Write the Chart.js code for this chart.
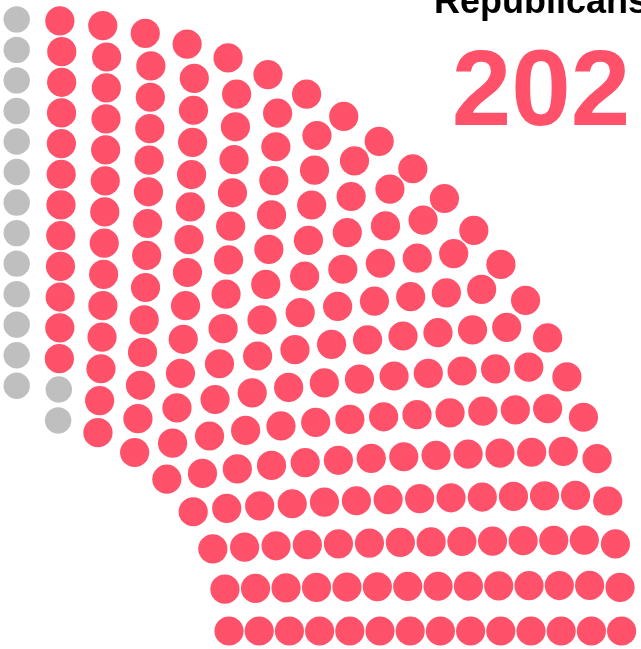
<!DOCTYPE html>
<html>
<head>
<meta charset="utf-8">
<script src="https://cdn.jsdelivr.net/npm/chart.js@4/dist/chart.umd.min.js"></script>
<style>
	html, body { margin: 0; padding: 0; background: #fff; }
	#wrap { width: 641px; height: 649px; position: relative; }
</style>
</head>
<body>
<div id="wrap"><canvas id="seatChart"></canvas></div>
<script>
// seats per group (US House style hemicycle, right half shown)
var parties = [ 'Other', 'Republicans' ];
var seats = [ 219, 202 ];
var partyColors = [ '#bfbfbf', '#ff526a' ];
var highlightParty = 1;

// hemicycle layout settings
var rowCount = 14;
var innerRatio = 0.351;
var seatSpacing = 0.0729;

// builds seat slots ring by ring, then sorts them left to right
function parliamentSlots(total) {
	var slots = [];
	for (var k = 0; k < rowCount; k++) {
		var r = innerRatio + (1 - innerRatio) * k / (rowCount - 1);
		var quarter = Math.round(Math.PI * r / (2 * seatSpacing));
		for (var j = -quarter; j <= quarter; j++) {
			var a = Math.PI / 2 - j * Math.PI / (2 * quarter);
			slots.push({ x : r * Math.cos(a), y : r * Math.sin(a), row : k, col : j });
		}
	}
	// too many slots: drop the middle seat of the inner rows first
	var extra = slots.length - total;
	for (var row = 0; extra > 0 && row < rowCount; row++, extra--) {
		slots = slots.filter(function(s) { return !(s.row === row && s.col === 0); });
	}
	slots.sort(function(p, q) { return p.x - q.x; });
	return slots;
}

var total = seats.reduce(function(s, v) { return s + v; }, 0);
var slots = parliamentSlots(total);
var datasets = [];
var start = 0;
for (var i = 0; i < parties.length; i++) {
	datasets.push({
		label : parties[i],
		data : slots.slice(start, start + seats[i]).map(function(s) { return { x : s.x, y : s.y }; }),
		backgroundColor : partyColors[i],
		borderWidth : 0,
		pointRadius : i === highlightParty ? 14.6 : 13.2,
		pointHoverRadius : i === highlightParty ? 15.5 : 14
	});
	start += seats[i];
}

// party name and seat count in the top right
var headline = {
	id : 'headline',
	afterDraw : function(chart) {
		var ctx = chart.ctx;
		ctx.save();
		ctx.textAlign = 'center';
		ctx.textBaseline = 'alphabetic';
		ctx.fillStyle = '#000';
		ctx.font = 'bold 36px "Liberation Sans", Arial, sans-serif';
		ctx.fillText(parties[highlightParty], 541, 13);
		ctx.fillStyle = partyColors[highlightParty];
		ctx.font = 'bold 107px "Liberation Sans", Arial, sans-serif';
		ctx.fillText(String(seats[highlightParty]), 541, 125);
		ctx.restore();
	}
};

var ctx = document.getElementById('seatChart');
var seatChart = new Chart(ctx, {
	type : 'scatter',
	data : { datasets : datasets },
	options : {
		responsive : true,
		maintainAspectRatio : false,
		animation : false,
		layout : { padding : 0, autoPadding : false },
		scales : {
			x : { type : 'linear', min : -0.0276, max : 1.0321, display : false },
			y : { type : 'linear', min : -0.0294, max : 1.0316, display : false }
		},
		plugins : {
			legend : { display : false },
			tooltip : { enabled : true }
		}
	},
	plugins : [ headline ]
});
</script>
</body>
</html>
